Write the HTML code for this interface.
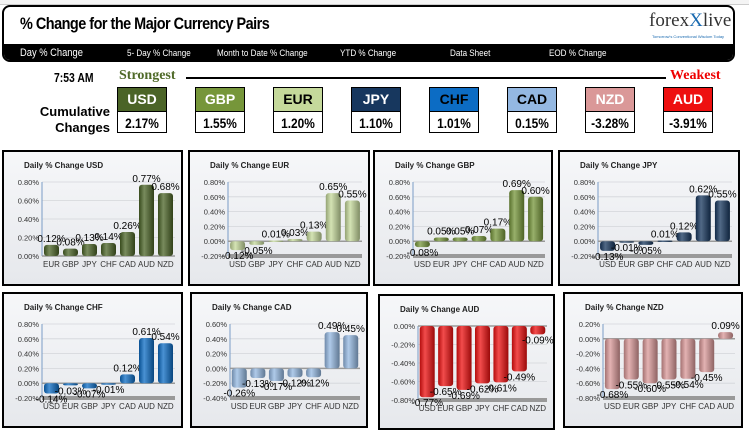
<!DOCTYPE html>
<html><head><meta charset="utf-8">
<style>
body{margin:0;width:749px;height:432px;background:#fff;position:relative;overflow:hidden;font-family:"Liberation Sans",sans-serif}
.abs{position:absolute}
#header{left:2px;top:5px;width:733px;height:57px;border:2px solid #000;border-radius:8px;background:#fff;overflow:hidden;box-sizing:border-box}
#title{left:16px;top:7px;font-size:17px;font-weight:bold;letter-spacing:-0.6px;transform:scaleX(0.85);transform-origin:left}
#nav{left:0;top:37px;width:100%;height:20px;background:#000;color:#fff}
.nav{position:absolute;top:4px;font-size:9.5px;transform:scaleX(0.85);transform-origin:left}
.box{position:absolute;width:50px;height:46px;border:1px solid #000;box-sizing:border-box;background:#fff}
.box .h{height:23px;border-bottom:1px solid #000;font-weight:bold;font-size:14px;text-align:center;line-height:23px;color:#000}
.box .v{font-weight:bold;font-size:14px;text-align:center;line-height:22px;transform:scaleX(0.85)}
.panel{position:absolute;border:2px solid #000;box-sizing:border-box;background:#fff}
</style></head><body>
<div class="abs" style="left:0;top:0;width:749px;height:4px;border-bottom:1px solid #ccc;background:#f4f4f4"></div>
<div id="header" class="abs">
 <div id="title" class="abs">% Change for the Major Currency Pairs</div>
 <div class="abs" style="left:645px;top:3px;font-family:'Liberation Serif',serif;font-size:19px;color:#333">forex<span style="color:#1a6ab0">X</span>live</div>
 <div class="abs" style="left:648px;top:27px;font-size:4px;color:#1a6ab0">Tomorrow's Conventional Wisdom Today</div>
 <div id="nav" class="abs">
  <span class="nav" style="left:16px;font-size:11px;top:3px">Day % Change</span>
  <span class="nav" style="left:123px">5- Day % Change</span>
  <span class="nav" style="left:213px">Month to Date % Change</span>
  <span class="nav" style="left:336px">YTD % Change</span>
  <span class="nav" style="left:446px">Data Sheet</span>
  <span class="nav" style="left:545px">EOD % Change</span>
 </div>
</div>
<div class="abs" style="left:54px;top:70px;font-size:13px;font-weight:bold;transform:scaleX(0.8);transform-origin:left">7:53 AM</div>
<div class="abs" style="left:119px;top:68px;font-size:14px;font-weight:bold;color:#4f6a28;font-family:'Liberation Serif',serif">Strongest</div>
<div class="abs" style="left:186px;top:77px;width:480px;height:2px;background:#000"></div>
<div class="abs" style="left:670px;top:68px;font-size:14px;font-weight:bold;color:#e00;font-family:'Liberation Serif',serif">Weakest</div>
<div class="abs" style="left:30px;top:104px;width:80px;text-align:right;font-size:13px;font-weight:bold;line-height:16px">Cumulative<br>Changes</div>
<div id="boxes"></div>
<div id="panels"></div>
<script>
const ranks=["USD","GBP","EUR","JPY","CHF","CAD","NZD","AUD"];
const cumVals=["2.17%","1.55%","1.20%","1.10%","1.01%","0.15%","-3.28%","-3.91%"];
const cur={USD:"#4b6427",GBP:"#76963a",EUR:"#c5d99b",JPY:"#17375e",CHF:"#0c6cc4",CAD:"#94b8e2",NZD:"#da9898",AUD:"#ee1010"};
const hdrText={USD:"#fff",GBP:"#fff",EUR:"#000",JPY:"#fff",CHF:"#000",CAD:"#000",NZD:"#fff",AUD:"#fff"};
const bx=document.getElementById('boxes');
ranks.forEach((c,i)=>{
 const d=document.createElement('div');d.className='box';
 
 
 d.style.left=(117+i*78)+'px';d.style.top='87px';
 d.innerHTML='<div class="h" style="background:'+cur[c]+';color:'+hdrText[c]+'">'+c+'</div><div class="v">'+cumVals[i]+'</div>';
 bx.appendChild(d);
});

const catsUSD=["EUR","GBP","JPY","CHF","CAD","AUD","NZD"], valsUSD=[0.12,0.08,0.13,0.14,0.26,0.77,0.68];
const catsEUR=["USD","GBP","JPY","CHF","CAD","AUD","NZD"], valsEUR=[-0.12,-0.05,0.01,0.03,0.13,0.65,0.55];
const catsGBP=["USD","EUR","JPY","CHF","CAD","AUD","NZD"], valsGBP=[-0.08,0.05,0.05,0.07,0.17,0.69,0.60];
const catsJPY=["USD","EUR","GBP","CHF","CAD","AUD","NZD"], valsJPY=[-0.13,-0.01,-0.05,0.01,0.12,0.62,0.55];
const catsCHF=["USD","EUR","GBP","JPY","CAD","AUD","NZD"], valsCHF=[-0.14,-0.03,-0.07,-0.01,0.12,0.61,0.54];
const catsCAD=["USD","EUR","GBP","JPY","CHF","AUD","NZD"], valsCAD=[-0.26,-0.13,-0.17,-0.12,-0.12,0.49,0.45];
const catsAUD=["USD","EUR","GBP","JPY","CHF","CAD","NZD"], valsAUD=[-0.77,-0.65,-0.69,-0.62,-0.61,-0.49,-0.09];
const catsNZD=["USD","EUR","GBP","JPY","CHF","CAD","AUD"], valsNZD=[-0.68,-0.55,-0.60,-0.55,-0.54,-0.45,0.09];
const ticksUSD=[0,0.2,0.4,0.6,0.8], ticksStd=[-0.2,0,0.2,0.4,0.6,0.8], ticksCAD=[-0.4,-0.2,0,0.2,0.4,0.6];
const ticksAUD=[-0.8,-0.6,-0.4,-0.2,0], ticksNZD=[-0.8,-0.6,-0.4,-0.2,0,0.2];

const charts=[
 {c:"USD",cats:catsUSD,vals:valsUSD,ticks:ticksUSD,x:2,y:150,w:181},
 {c:"EUR",cats:catsEUR,vals:valsEUR,ticks:ticksStd,x:188,y:150,w:182},
 {c:"GBP",cats:catsGBP,vals:valsGBP,ticks:ticksStd,x:373,y:150,w:180},
 {c:"JPY",cats:catsJPY,vals:valsJPY,ticks:ticksStd,x:558,y:150,w:182},
 {c:"CHF",cats:catsCHF,vals:valsCHF,ticks:ticksStd,x:2,y:292,w:181},
 {c:"CAD",cats:catsCAD,vals:valsCAD,ticks:ticksCAD,x:190,y:292,w:178},
 {c:"AUD",cats:catsAUD,vals:valsAUD,ticks:ticksAUD,x:378,y:294,w:177},
 {c:"NZD",cats:catsNZD,vals:valsNZD,ticks:ticksNZD,x:563,y:292,w:180}
];
const NS="http://www.w3.org/2000/svg";
function el(t,a){const e=document.createElementNS(NS,t);for(const k in a)e.setAttribute(k,a[k]);return e;}
function shade(hex,f){const n=parseInt(hex.slice(1),16);let r=n>>16,g=(n>>8)&255,b=n&255;
 const m=v=>Math.max(0,Math.min(255,Math.round(f>0?v+(255-v)*f:v*(1+f))));return 'rgb('+m(r)+','+m(g)+','+m(b)+')';}
const P=document.getElementById('panels');
charts.forEach(ch=>{
 const H=136,W=ch.w;
 const d=document.createElement('div');d.className='panel';
 
 
 d.style.left=ch.x+'px';d.style.top=ch.y+'px';d.style.width=W+'px';d.style.height=H+'px';
 const s=el('svg',{width:W-4,height:H-4});
 const defs=el('defs',{});
 const bg=el('linearGradient',{id:'bg'+ch.c,x1:0,y1:0,x2:0,y2:1});
 bg.appendChild(el('stop',{offset:0,'stop-color':'#f6f7f9'}));bg.appendChild(el('stop',{offset:1,'stop-color':'#e6e8ec'}));
 const bg2=el('linearGradient',{id:'bar'+ch.c,x1:0,y1:0,x2:1,y2:0});
 const col=cur[ch.c];
 bg2.appendChild(el('stop',{offset:0,'stop-color':shade(col,-0.25)}));
 bg2.appendChild(el('stop',{offset:0.35,'stop-color':shade(col,0.25)}));
 bg2.appendChild(el('stop',{offset:1,'stop-color':shade(col,-0.35)}));
 defs.appendChild(bg);defs.appendChild(bg2);s.appendChild(defs);
 s.appendChild(el('rect',{x:0,y:0,width:W-4,height:H-4,fill:'url(#bg'+ch.c+')'}));
 const t=el('text',{x:20,y:16,'font-size':8,'font-weight':'bold',fill:'#222'});t.textContent='Daily % Change '+ch.c;
 s.appendChild(t);
 const tmin=ch.ticks[0],tmax=ch.ticks[ch.ticks.length-1];
 const top=30,bot=104,left=38,right=W-10;
 const yS=v=>bot-(v-tmin)/(tmax-tmin)*(bot-top);
 ch.ticks.forEach(v=>{
  const ty=yS(v);
  s.appendChild(el('line',{x1:left,x2:right,y1:ty,y2:ty,stroke:'#d4d6da','stroke-width':0.8}));
  const l=el('text',{x:left-3,y:ty+3,'font-size':7.5,'text-anchor':'end',fill:'#333'});
  l.textContent=v.toFixed(2)+'%';
  s.appendChild(l);
 });
 s.appendChild(el('line',{x1:left,x2:left,y1:top,y2:bot,stroke:'#7a9cc6','stroke-width':1}));
 const zy=yS(Math.max(tmin,Math.min(0,tmax)));
 s.appendChild(el('line',{x1:left,x2:right,y1:zy,y2:zy,stroke:'#999','stroke-width':1.5}));
 if(tmin<0) s.appendChild(el('rect',{x:left,y:bot-2,width:right-left,height:4,fill:'#999'}));
 const n=ch.cats.length,bw=(right-left)/n;
 ch.cats.forEach((c,i)=>{
  const v=ch.vals[i],cx=left+bw*(i+0.5),y0=yS(0),y1=yS(v);
  const r=el('rect',{x:cx-7.5,y:Math.min(y0,y1),width:15,height:Math.max(1.5,Math.abs(y1-y0)),rx:3,fill:'url(#bar'+ch.c+')'});
  s.appendChild(r);
  const lb=el('text',{x:cx,y:v>=0?y1-3:y1+9,'font-size':10,'text-anchor':'middle',fill:'#000'});
  lb.textContent=v.toFixed(2)+'%';
  s.appendChild(lb);
  const xl=el('text',{x:cx,y:bot+11,'font-size':8,'text-anchor':'middle',fill:'#333'});
  xl.textContent=c;
  s.appendChild(xl);
 });
 d.appendChild(s);P.appendChild(d);
});
</script>
</body></html>
